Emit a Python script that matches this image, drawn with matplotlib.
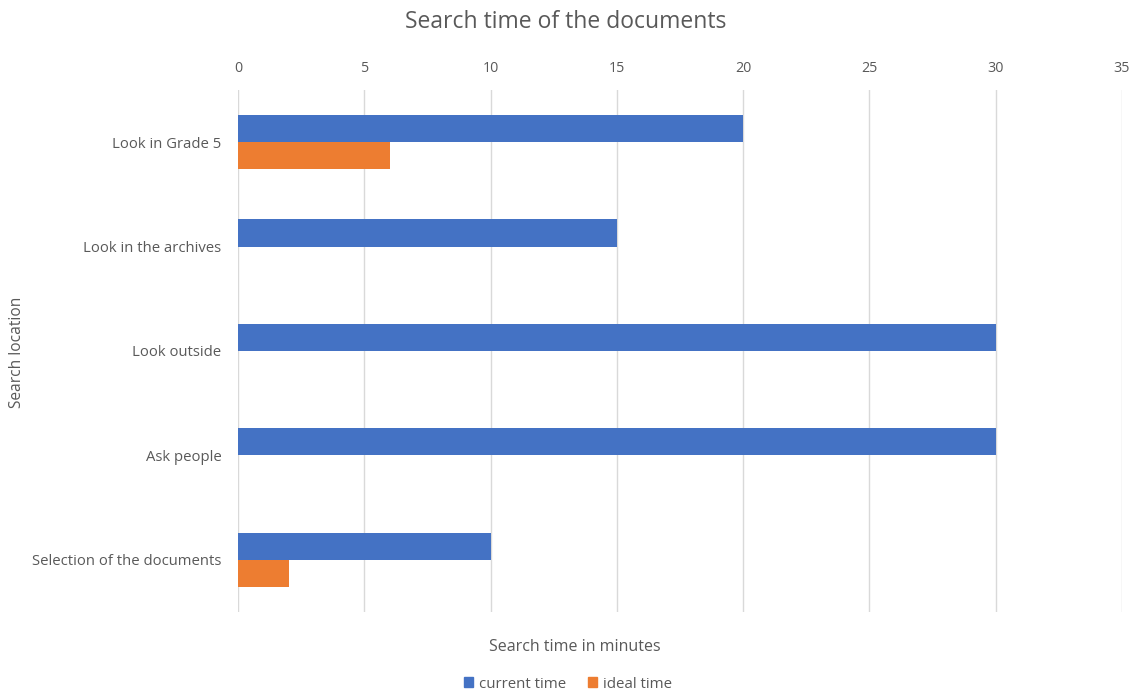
import matplotlib
matplotlib.use("Agg")
import matplotlib.pyplot as plt
import numpy as np
from matplotlib.patches import Patch

categories = ["Look in Grade 5", "Look in the archives", "Look outside", "Ask people", "Selection of the documents"]
current_time = [20, 15, 30, 30, 10]
ideal_time = [6, 0, 0, 0, 2]
xticks = [0, 5, 10, 15, 20, 25, 30, 35]

plt.rcParams['font.family'] = ['Open Sans', 'DejaVu Sans']
txt = '#595959'
blue = '#4472C4'
orange = '#ED7D31'

fig = plt.figure(figsize=(11.35, 6.92), dpi=100)
ax = fig.add_axes([238/1135, 1-612/692, (1122-238)/1135, (612-90)/692])

y = np.arange(len(categories))
h = 0.26
ax.barh(y - h/2, current_time, height=h, color=blue, linewidth=0, zorder=3)
ax.barh(y + h/2, ideal_time, height=h, color=orange, linewidth=0, zorder=3)

ax.set_ylim(len(categories) - 0.5, -0.5)
ax.set_xlim(0, 35)
ax.set_xticks(xticks)
ax.xaxis.tick_top()
ax.tick_params(axis='x', length=0, labelsize=10.3, labelcolor=txt, pad=10)
ax.tick_params(axis='y', length=0, labelsize=10.7, labelcolor=txt, pad=12)
ax.set_yticks(y)
ax.set_yticklabels(categories)
ax.grid(axis='x', color='#D9D9D9', linewidth=1, zorder=0)
for s in ax.spines.values():
    s.set_visible(False)

fig.text(566/1135, 1-22/692, "Search time of the documents", ha='center', va='center', fontsize=16.5, color=txt)
fig.text(575/1135, 1-647/692, "Search time in minutes", ha='center', va='center', fontsize=11.5, color=txt)
fig.text(17/1135, 1-352/692, "Search location", ha='center', va='center', rotation=90, fontsize=11.2, color=txt)

handles = [Patch(color=blue, label='current time'), Patch(color=orange, label='ideal time')]
fig.legend(handles=handles, loc='center', bbox_to_anchor=(568/1135, 1-684/692), ncol=2, frameon=False,
           fontsize=10.8, labelcolor=txt, handlelength=0.6, handleheight=0.6, handletextpad=0.4, columnspacing=1.4)

fig.savefig("out.png", dpi=100)
